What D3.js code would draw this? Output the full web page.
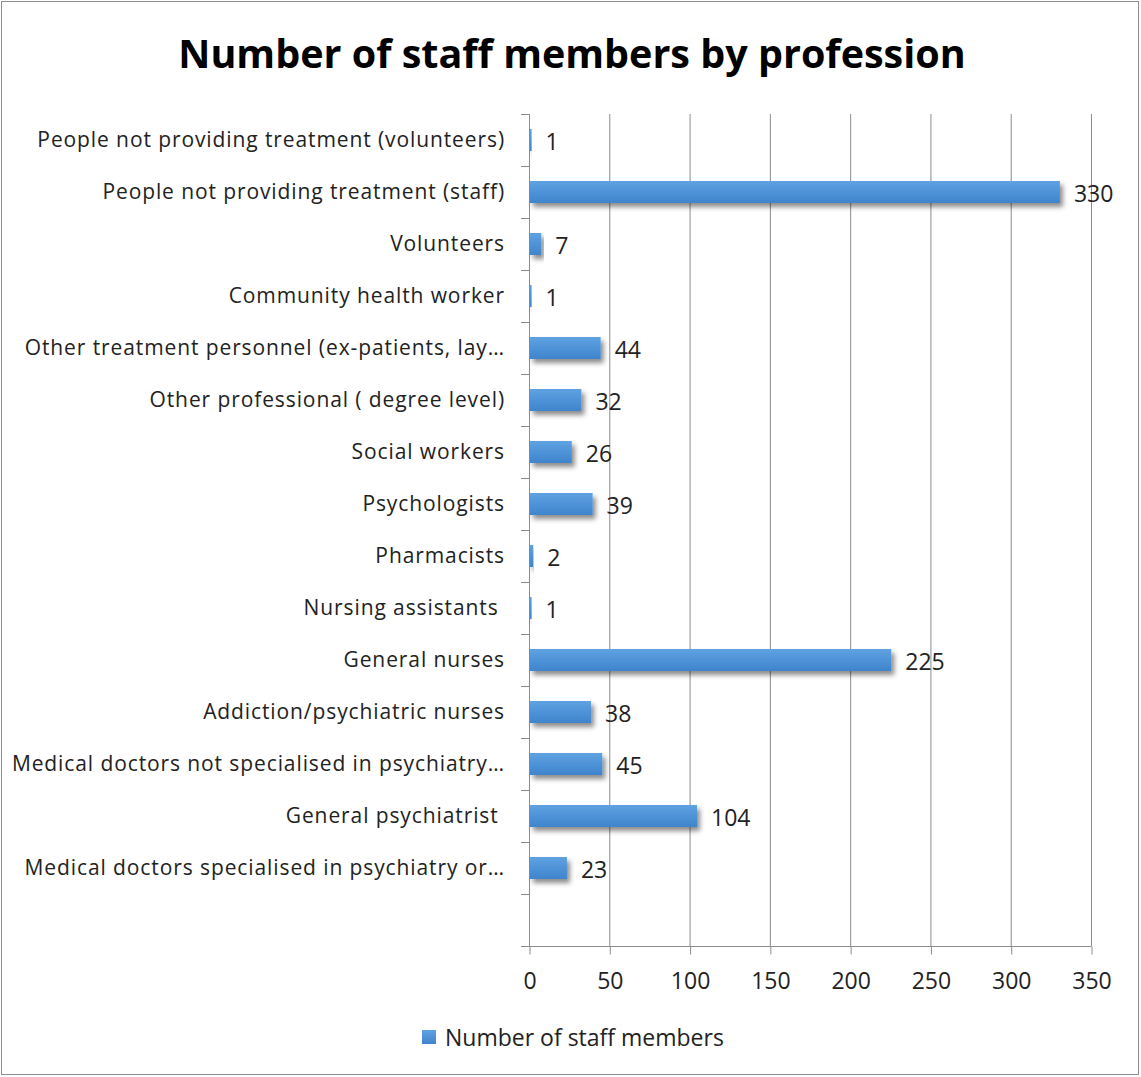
<!DOCTYPE html>
<html>
<head>
<meta charset="utf-8">
<script src="https://cdn.jsdelivr.net/npm/d3@7"></script>
<style>
  html, body { margin: 0; padding: 0; background: #fff; }
  svg text { font-family: "Open Sans", "Noto Sans", sans-serif; white-space: pre; }
</style>
</head>
<body>
<svg id="chart" width="1141" height="1077"></svg>
<script>
// Categories listed top to bottom; the last band is left empty.
const categories = [
  "People not providing treatment (volunteers)",
  "People not providing treatment (staff)",
  "Volunteers",
  "Community health worker",
  "Other treatment personnel (ex-patients, lay…",
  "Other professional ( degree level)",
  "Social workers",
  "Psychologists",
  "Pharmacists",
  "Nursing assistants ",
  "General nurses",
  "Addiction/psychiatric nurses",
  "Medical doctors not specialised in psychiatry…",
  "General psychiatrist ",
  "Medical doctors specialised in psychiatry or…",
  ""
];
const staffCounts = [1, 330, 7, 1, 44, 32, 26, 39, 2, 1, 225, 38, 45, 104, 23, null];
const xTicks = [0, 50, 100, 150, 200, 250, 300, 350];
const seriesName = "Number of staff members";
const title = "Number of staff members by profession";

const svg = d3.select("#chart");
const W = 1141, H = 1077;
const plot = { left: 529, right: 1091, top: 114, bottom: 946 };

// Outer frame
svg.append("rect").attr("x", 1.5).attr("y", 1.5).attr("width", W - 4).attr("height", H - 4)
  .attr("fill", "#fff").attr("stroke", "#8c8c8c").attr("stroke-width", 1);

const defs = svg.append("defs");
const grad = defs.append("linearGradient").attr("id", "barGrad")
  .attr("x1", 0).attr("y1", 0).attr("x2", 0).attr("y2", 1);
grad.append("stop").attr("offset", "0%").attr("stop-color", "#5fa2e2");
grad.append("stop").attr("offset", "100%").attr("stop-color", "#3f84cc");
const shadow = defs.append("filter").attr("id", "barShadow")
  .attr("x", "-20%").attr("y", "-50%").attr("width", "140%").attr("height", "220%");
shadow.append("feDropShadow").attr("dx", 3).attr("dy", 4).attr("stdDeviation", 2.5)
  .attr("flood-color", "#000").attr("flood-opacity", 0.45);

const x = d3.scaleLinear().domain([0, 350]).range([plot.left, plot.right]);
const y = d3.scaleBand().domain(d3.range(categories.length)).range([plot.top, plot.bottom]).paddingInner(0).paddingOuter(0);

// Vertical gridlines
svg.append("g").selectAll("line").data(xTicks.slice(1)).join("line")
  .attr("x1", d => x(d) + 0.5).attr("x2", d => x(d) + 0.5)
  .attr("y1", plot.top).attr("y2", plot.bottom)
  .attr("stroke", "#8c8c8c").attr("stroke-width", 1);

// X axis
const xAxis = svg.append("g").attr("transform", `translate(0.5,${plot.bottom + 0.5})`)
  .call(d3.axisBottom(x).tickValues(xTicks).tickSize(8).tickPadding(18).tickSizeOuter(0));
xAxis.select(".domain").attr("stroke", "#8c8c8c").attr("d", `M${plot.left - 8 - 0.5},0H${plot.right}`);
xAxis.selectAll(".tick line").attr("stroke", "#8c8c8c");
xAxis.selectAll(".tick text").attr("font-size", 23).attr("fill", "#222")
  .attr("font-family", "\"Open Sans\", sans-serif");

// Y axis with ticks between bands
const yAxisG = svg.append("g");
yAxisG.append("line").attr("x1", plot.left + 0.5).attr("x2", plot.left + 0.5)
  .attr("y1", plot.top).attr("y2", plot.bottom).attr("stroke", "#8c8c8c");
yAxisG.selectAll("line.tk").data(d3.range(categories.length + 1)).join("line")
  .attr("class", "tk")
  .attr("x1", plot.left - 8).attr("x2", plot.left)
  .attr("y1", i => Math.round(plot.top + i * y.step()) + 0.5)
  .attr("y2", i => Math.round(plot.top + i * y.step()) + 0.5)
  .attr("stroke", "#8c8c8c");
yAxisG.selectAll("text").data(categories).join("text")
  .attr("x", plot.left - 24).attr("y", (d, i) => y(i) + y.bandwidth() / 2 - 1)
  .attr("text-anchor", "end").attr("dominant-baseline", "central")
  .attr("font-size", 21).attr("letter-spacing", 0.9).attr("fill", "#222").text(d => d);

// Bars
const barH = 22;
const rows = staffCounts.map((v, i) => ({ v, i })).filter(d => d.v !== null);
svg.append("g").selectAll("rect").data(rows).join("rect")
  .attr("x", x(0) + 1).attr("y", d => y(d.i) + y.bandwidth() / 2 - barH / 2)
  .attr("width", d => Math.max(x(d.v) - x(0), 1.5)).attr("height", barH)
  .attr("fill", "url(#barGrad)").attr("filter", "url(#barShadow)");

// Value labels
svg.append("g").selectAll("text").data(rows).join("text")
  .attr("x", d => x(d.v) + 15).attr("y", d => y(d.i) + y.bandwidth() / 2 + 1)
  .attr("dominant-baseline", "central").attr("font-size", 23).attr("fill", "#222")
  .text(d => d.v);

// Title
svg.append("text").attr("x", 572).attr("y", 68).attr("text-anchor", "middle")
  .attr("font-size", 39.5).attr("font-weight", "bold").attr("fill", "#000").text(title);

// Legend
const lg = svg.append("g").attr("transform", "translate(422,1030)");
lg.append("rect").attr("width", 14).attr("height", 14).attr("fill", "url(#barGrad)");
lg.append("text").attr("x", 23).attr("y", 7).attr("dominant-baseline", "central")
  .attr("font-size", 23).attr("fill", "#222").text(seriesName);
</script>
</body>
</html>
